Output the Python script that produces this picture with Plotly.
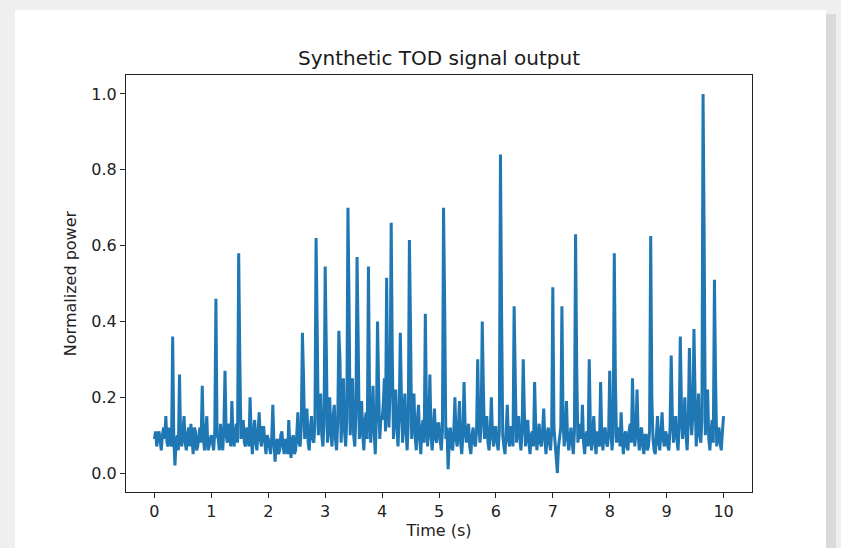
import numpy as np
import plotly.graph_objects as go

# Sampled signal, one list per second (sample step 0.02 s)
sample_step = 0.02
power_sec0 = [0.09,0.11,0.07,0.10,0.11,0.08,0.06,0.10,0.12,0.09,0.15,0.08,0.07,0.12,0.10,0.07,0.36,0.09,0.02,0.08,0.10,0.06,0.26,0.09,0.07,0.12,0.15,0.08,0.06,0.10,0.12,0.07,0.13,0.09,0.05,0.12,0.11,0.06,0.07,0.10,0.12,0.08,0.23,0.09,0.06,0.11,0.15,0.06,0.07,0.09]
power_sec1 = [0.10,0.08,0.06,0.11,0.46,0.10,0.09,0.06,0.13,0.09,0.06,0.12,0.27,0.10,0.08,0.13,0.12,0.07,0.19,0.10,0.07,0.11,0.13,0.08,0.58,0.30,0.09,0.12,0.14,0.08,0.07,0.12,0.11,0.07,0.20,0.10,0.05,0.11,0.14,0.08,0.06,0.11,0.16,0.09,0.07,0.12,0.12,0.08,0.05,0.10]
power_sec2 = [0.09,0.07,0.05,0.09,0.18,0.08,0.03,0.08,0.09,0.05,0.06,0.10,0.11,0.07,0.05,0.09,0.08,0.05,0.14,0.07,0.04,0.09,0.10,0.05,0.06,0.10,0.16,0.08,0.07,0.12,0.37,0.25,0.09,0.13,0.17,0.08,0.06,0.12,0.15,0.09,0.08,0.13,0.62,0.38,0.10,0.15,0.21,0.10,0.07,0.13]
power_sec3 = [0.545,0.33,0.08,0.14,0.20,0.10,0.07,0.15,0.18,0.09,0.06,0.13,0.375,0.30,0.08,0.16,0.25,0.11,0.07,0.14,0.70,0.44,0.10,0.17,0.25,0.10,0.07,0.15,0.57,0.35,0.09,0.12,0.19,0.10,0.06,0.14,0.16,0.09,0.545,0.20,0.08,0.15,0.23,0.11,0.05,0.14,0.40,0.22,0.09,0.15]
power_sec4 = [0.14,0.18,0.25,0.11,0.515,0.20,0.12,0.22,0.66,0.30,0.09,0.16,0.22,0.12,0.07,0.15,0.37,0.20,0.08,0.14,0.21,0.11,0.06,0.13,0.615,0.38,0.09,0.15,0.21,0.10,0.06,0.14,0.18,0.09,0.05,0.12,0.14,0.08,0.42,0.16,0.07,0.13,0.26,0.10,0.06,0.12,0.17,0.09,0.08,0.13]
power_sec5 = [0.13,0.09,0.06,0.11,0.70,0.44,0.09,0.12,0.01,0.08,0.12,0.07,0.06,0.11,0.20,0.09,0.07,0.12,0.19,0.08,0.05,0.10,0.24,0.12,0.08,0.11,0.13,0.07,0.05,0.10,0.12,0.08,0.07,0.11,0.30,0.14,0.08,0.12,0.40,0.22,0.09,0.13,0.15,0.08,0.06,0.11,0.20,0.10,0.07,0.12]
power_sec6 = [0.12,0.08,0.06,0.11,0.84,0.42,0.10,0.07,0.05,0.11,0.18,0.09,0.07,0.12,0.12,0.07,0.44,0.25,0.08,0.12,0.15,0.09,0.06,0.11,0.30,0.16,0.07,0.11,0.14,0.08,0.05,0.10,0.11,0.07,0.24,0.12,0.06,0.10,0.13,0.08,0.07,0.11,0.17,0.09,0.05,0.10,0.12,0.08,0.06,0.11]
power_sec7 = [0.49,0.12,0.08,0.05,0.00,0.07,0.10,0.12,0.44,0.14,0.07,0.11,0.19,0.09,0.06,0.10,0.12,0.08,0.05,0.11,0.63,0.28,0.08,0.11,0.13,0.09,0.18,0.08,0.05,0.10,0.11,0.07,0.30,0.12,0.06,0.10,0.15,0.08,0.05,0.11,0.10,0.07,0.24,0.10,0.06,0.11,0.12,0.08,0.07,0.10]
power_sec8 = [0.27,0.12,0.06,0.10,0.58,0.24,0.08,0.11,0.12,0.07,0.16,0.09,0.05,0.10,0.11,0.07,0.06,0.11,0.13,0.08,0.25,0.12,0.07,0.11,0.22,0.10,0.06,0.11,0.12,0.07,0.05,0.10,0.10,0.06,0.07,0.11,0.625,0.20,0.09,0.06,0.05,0.10,0.15,0.08,0.06,0.11,0.16,0.09,0.07,0.11]
power_sec9 = [0.10,0.07,0.06,0.12,0.31,0.15,0.08,0.13,0.15,0.09,0.06,0.12,0.36,0.18,0.09,0.14,0.20,0.10,0.06,0.13,0.33,0.17,0.10,0.15,0.38,0.20,0.07,0.13,0.21,0.10,0.08,0.14,1.00,0.61,0.10,0.15,0.22,0.09,0.06,0.11,0.14,0.08,0.51,0.25,0.07,0.11,0.12,0.08,0.06,0.11]
power_end = [0.15]

x_ticks = [0, 1, 2, 3, 4, 5, 6, 7, 8, 9, 10]
y_ticks = [0.0, 0.2, 0.4, 0.6, 0.8, 1.0]

power = (power_sec0 + power_sec1 + power_sec2 + power_sec3 + power_sec4 +
         power_sec5 + power_sec6 + power_sec7 + power_sec8 + power_sec9 + power_end)
time_s = np.round(np.arange(len(power)) * sample_step, 2)

fig = go.Figure()
fig.add_trace(go.Scatter(x=time_s, y=power, mode="lines",
                         line=dict(color="#1f77b4", width=3), showlegend=False))

L, R, T, B = 126, 752, 75, 492
W, H = 841, 548
pw, ph = R - L, B - T
def px(x): return (x - L) / pw
def py(y): return (B - y) / ph

shapes = [
    dict(type="rect", xref="paper", yref="paper", x0=px(826), x1=px(836), y0=py(560), y1=py(14),
         fillcolor="#dadada", line=dict(width=0), layer="below"),
    dict(type="rect", xref="paper", yref="paper", x0=px(15), x1=px(826), y0=py(560), y1=py(10),
         fillcolor="white", line=dict(width=0), layer="below"),
]

font = "DejaVu Sans, Arial, sans-serif"
fig.update_layout(
    width=W, height=H,
    margin=dict(l=L, r=W - R, t=T, b=H - B),
    paper_bgcolor="#efefef", plot_bgcolor="white",
    shapes=shapes,
    title=dict(text="Synthetic TOD signal output", x=0.5, xref="paper", xanchor="center",
               y=1 - 58 / H, yref="container", yanchor="middle",
               font=dict(family=font, size=20, color="#1a1a1a")),
    font=dict(family=font, size=16, color="#222"),
    xaxis=dict(range=[-0.5, 10.5], tickvals=x_ticks, ticks="outside", ticklen=5,
               tickcolor="#222", showline=True, linecolor="#222", linewidth=1, mirror=True,
               showgrid=False, zeroline=False,
               title=dict(text="Time (s)", font=dict(size=16), standoff=4)),
    yaxis=dict(range=[-0.05, 1.05], tickvals=y_ticks, tickformat=".1f", ticks="outside", ticklen=5,
               tickcolor="#222", showline=True, linecolor="#222", linewidth=1, mirror=True,
               showgrid=False, zeroline=False,
               title=dict(text="Normalized power", font=dict(size=16), standoff=10)),
)

fig.write_html("out.html", config={"displayModeBar": False},
               post_script="document.body.style.margin='0px';")
